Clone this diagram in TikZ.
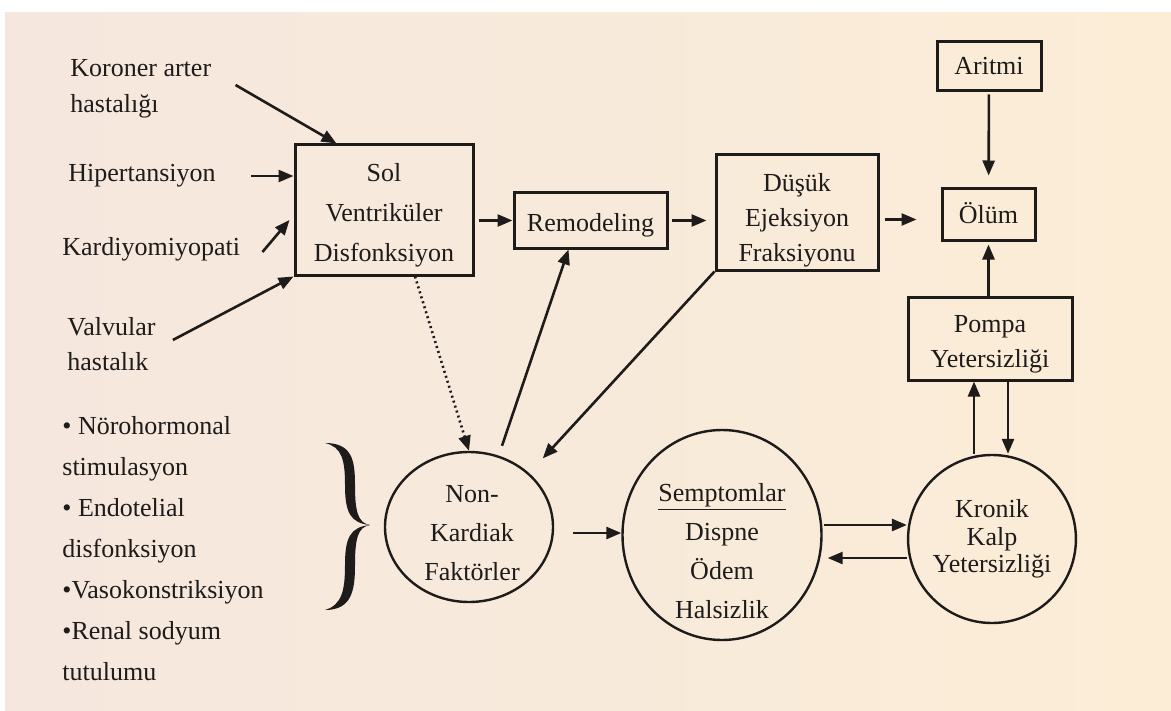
\documentclass[tikz,border=0pt]{standalone}
\usepackage{fontspec}
\setmainfont{Liberation Serif}
\usetikzlibrary{arrows.meta,positioning,shapes.geometric,calc}
\definecolor{paperL}{RGB}{245,231,222}
\definecolor{paperR}{RGB}{251,237,214}
\definecolor{ink}{RGB}{30,27,27}
\newcommand{\fs}[1]{\fontsize{13}{#1}\selectfont}
\tikzset{
  box/.style={draw=ink, line width=1.5pt, align=center, inner sep=0pt},
  oval/.style={draw=ink, ellipse, line width=1.2pt, align=center, inner sep=0pt},
  cause/.style={align=left, anchor=west, inner sep=0pt},
  arr/.style={draw=ink, line width=1.3pt, -{Triangle[length=7.5pt,width=6pt]}},
}

\begin{document}
\begin{tikzpicture}[x=0.5pt, y=-0.5pt, text=ink, font=\fs{20}]
  % paper
  \fill[white] (0,0) rectangle (1171,711);
  \shade[left color=paperL, right color=paperR] (5,13) rectangle (1171,711);
  \useasboundingbox (0,0) rectangle (1171,711);

  % Causes
  \node[cause, font=\fs{18}] (kor) at (70,89) {Koroner arter\\hastalığı};
  \node[cause] (hyp) at (68,176) {Hipertansiyon};
  \node[cause] (kar) at (62,249) {Kardiyomiyopati};
  \node[cause, font=\fs{17.5}] (val) at (67,344) {Valvular\\hastalık};
  \node[cause, font=\fs{20.5}] (neu) at (62,549) {• Nörohormonal\\stimulasyon\\• Endotelial\\disfonksiyon\\•Vasokonstriksiyon\\•Renal sodyum\\tutulumu};

  % Boxes
  \node[box, minimum width=89pt, minimum height=65pt] (lvd) at (384,210) {\rule{0pt}{13.9pt}Sol\\Ventriküler\\Disfonksiyon};
  \node[box, minimum width=76.5pt, minimum height=27.5pt, text height=11.5pt, text depth=0pt] (rem) at (590.5,220.5) {Remodeling};
  \node[box, minimum width=81pt, minimum height=57.5pt, font=\fs{17.5}] (dus) at (797,212.5) {\rule{0pt}{16.9pt}Düşük\\Ejeksiyon\\Fraksiyonu};
  \node[box, minimum width=52pt, minimum height=24.5pt, text height=8.5pt, text depth=0pt] (arit) at (989,66.5) {Aritmi};
  \node[box, minimum width=46.5pt, minimum height=25.5pt, text height=8.5pt, text depth=0pt] (olum) at (988.5,214.5) {Ölüm};
  \node[box, minimum width=82pt, minimum height=41.5pt, font=\fs{17.5}] (pomp) at (990,338.5) {\rule{0pt}{14.6pt}Pompa\\Yetersizliği};

  % Ovals
  \node[oval, minimum width=84pt, minimum height=75pt] (nkf) at (469,527) {};
  \node[align=center, font=\fs{19.5}] (nkftext) at ($(nkf)+(3,6)$) {Non-\\Kardiak\\Faktörler};
  \node[oval, minimum width=99.5pt, minimum height=105pt] (sym) at (722,535) {};
  \node[align=center, font=\fs{19.5}] (symtext) at ($(sym)+(0,16)$) {\underline{Semptomlar}\\Dispne\\Ödem\\Halsizlik};
  \node[oval, minimum width=75.5pt, minimum height=84pt, font=\fs{13.75}] (kron) at (992,539) {Kronik\\Kalp\\Yetersizliği};

  % Brace
  \fill[ink] (325,443) .. controls (352,443) and (355,460) .. (355,485)
    .. controls (355,512) and (358,523) .. (370,525)
    .. controls (358,527) and (355,538) .. (355,565)
    .. controls (355,590) and (352,610) .. (325,610)
    .. controls (342,605) and (345,590) .. (345,565)
    .. controls (345,538) and (350,527) .. (370,525)
    .. controls (350,523) and (345,512) .. (345,485)
    .. controls (345,460) and (342,447) .. (325,443) -- cycle;

  % Connections into Sol Ventrikuler Disfonksiyon
  \draw[arr] ($(kor.east)+(24,-4)$) -- ($(lvd.north west)+(43,0)$);
  \draw[arr] ($(hyp.east)+(35,0)$) -- (hyp -| lvd.west);
  \draw[arr] ($(kar.east)+(22,3)$) -- ($(lvd.west)+(-4,10)$);
  \draw[arr] ($(val.east)+(17,-4)$) -- (lvd.south west);

  % Main chain
  \draw[arr, shorten <=2pt] (lvd.east |- rem) -- (rem);
  \draw[arr, shorten <=1.5pt, shorten >=4pt] (rem) -- (rem -| dus.west);
  \draw[arr] ($(dus.east)+(5,7)$) -- ($(olum.west)+(-24,5)$);
  \draw[arr, shorten <=1pt, shorten >=6pt] (arit) -- (olum);
  \draw[arr, shorten >=1.5pt] (pomp.north -| olum) -- (olum);

  % Non-Kardiak loop
  \draw[arr, dash pattern=on 1pt off 1.6pt] ($(lvd.south)+(31,0)$) -- (nkf.north);
  \draw[arr] ($(nkf.north)+(33,-5)$) -- ($(rem.south)+(-22,0)$);
  \draw[arr, shorten >=10pt] (dus.south west) -- (nkf.north east);
  \draw[arr] ($(nkf.east)+(19,6)$) -- ($(sym.west)+(0,-2)$);

  % Semptomlar / Kronik / Pompa
  \draw[arr] ($(sym.east)+(1,-10)$) -- ($(kron.west)+(0,-14)$);
  \draw[arr] ($(kron.west)+(0,19)$) -- ($(sym.east)+(5,23)$);
  \draw[arr] ($(kron.north)+(-18,0)$) -- ($(pomp.south)+(-16,0)$);
  \draw[arr] ($(pomp.south)+(18,0)$) -- ($(kron.north)+(16,0)$);
\end{tikzpicture}
\end{document}
